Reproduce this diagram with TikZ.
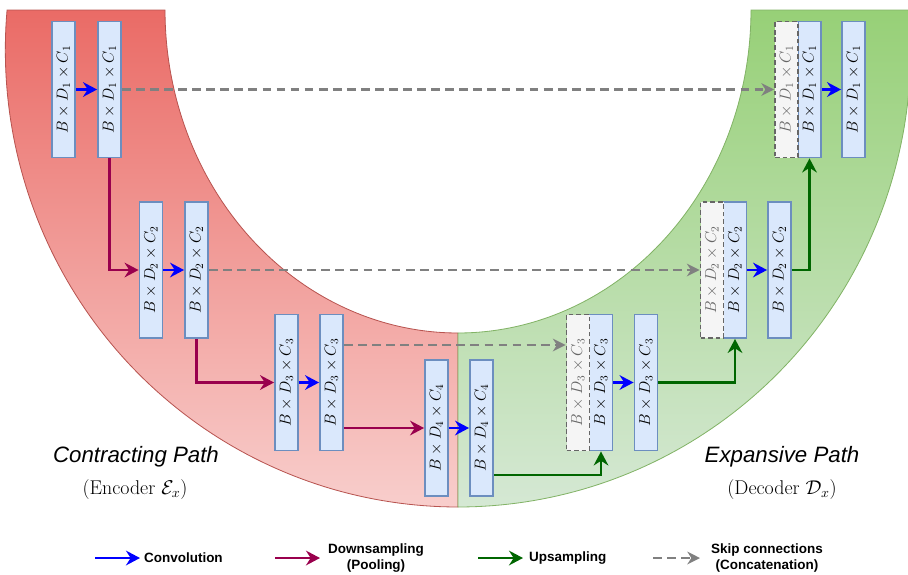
\RequirePackage{fix-cm}
\documentclass[tikz,border=0pt]{standalone}
\usepackage{fontspec}
\usepackage{amsmath}
\newfontfamily\pathfont{Liberation Sans}
\usetikzlibrary{arrows.meta}

\definecolor{redtop}{HTML}{EA6B66}
\definecolor{redbot}{HTML}{F8CECC}
\definecolor{redline}{HTML}{B85450}
\definecolor{greentop}{HTML}{97D077}
\definecolor{greenbot}{HTML}{D5E8D4}
\definecolor{greenline}{HTML}{82B366}
\definecolor{blockfill}{HTML}{DAE8FC}
\definecolor{blockline}{HTML}{6C8EBF}
\definecolor{skipfill}{HTML}{F5F5F5}
\definecolor{skipline}{HTML}{666666}
\definecolor{convblue}{HTML}{0000FF}
\definecolor{poolred}{HTML}{99004D}
\definecolor{upgreen}{HTML}{006600}
\definecolor{skipgray}{HTML}{808080}

\begin{document}
\begin{tikzpicture}[x=0.03cm, y=-0.03cm,
  block/.style={draw=blockline, fill=blockfill, line width=1.6pt,
    minimum width=0.69cm, minimum height=4.08cm, inner sep=0pt,
    font=\fontsize{13.5}{15}\selectfont},
  skipblock/.style={block, draw=skipline, fill=skipfill,
    dash pattern=on 4pt off 2.5pt, text=skipline},
  conv/.style={-{Stealth[length=4.2mm, width=4.4mm, inset=1.4mm]}, convblue, line width=2.4pt},
  pool/.style={-{Stealth[length=4.2mm, width=4.4mm, inset=1.4mm]}, poolred, line width=2.4pt},
  upconv/.style={-{Stealth[length=4.2mm, width=4.4mm, inset=1.4mm]}, upgreen, line width=2.4pt},
  skip/.style={-{Stealth[length=3.8mm, width=3.8mm, inset=1.2mm]}, skipgray, line width=1.9pt,
    dash pattern=on 7.5pt off 4.5pt},
  legend/.style={font=\pathfont\bfseries\fontsize{11.5}{13.7}\selectfont, align=center}]

  \useasboundingbox (0,0) rectangle (908,574);

  % Bands
  \draw[top color=redtop, bottom color=redbot, draw=redline, line width=0.7pt]
    plot[domain=185.02:90, samples=90] ({458+452.7*cos(\x)}, {50+457*sin(\x)})
    -- (458,333)
    -- plot[domain=90:180, samples=90] ({458+293*cos(\x)}, {10+323*sin(\x)})
    -- cycle;
  \draw[top color=greentop, bottom color=greenbot, draw=greenline, line width=0.7pt]
    plot[domain=185.02:90, samples=90] ({458-452.7*cos(\x)}, {50+457*sin(\x)})
    -- (458,333)
    -- plot[domain=90:180, samples=90] ({458-293*cos(\x)}, {10+323*sin(\x)})
    -- cycle;

  % Encoder blocks
  \node[block] (enc1a) at (63.5,89.5)  {\rotatebox{90}{$B\times D_1\times C_1$}};
  \node[block] (enc1b) at (109.5,89.5) {\rotatebox{90}{$B\times D_1\times C_1$}};
  \node[block] (enc2a) at (151,270)    {\rotatebox{90}{$B\times D_2\times C_2$}};
  \node[block] (enc2b) at (196.5,270)  {\rotatebox{90}{$B\times D_2\times C_2$}};
  \node[block] (enc3a) at (286.5,382.5) {\rotatebox{90}{$B\times D_3\times C_3$}};
  \node[block] (enc3b) at (331.5,382.5) {\rotatebox{90}{$B\times D_3\times C_3$}};

  % Bottleneck
  \node[block] (bott1) at (436.5,428) {\rotatebox{90}{$B\times D_4\times C_4$}};
  \node[block] (bott2) at (481.5,428) {\rotatebox{90}{$B\times D_4\times C_4$}};

  % Decoder blocks
  \node[block] (dec3a) at (601,382.5) {\rotatebox{90}{$B\times D_3\times C_3$}};
  \node[block] (dec3b) at (646,382.5) {\rotatebox{90}{$B\times D_3\times C_3$}};
  \node[block] (dec2a) at (735,270)   {\rotatebox{90}{$B\times D_2\times C_2$}};
  \node[block] (dec2b) at (779.5,270) {\rotatebox{90}{$B\times D_2\times C_2$}};
  \node[block] (dec1a) at (809.5,89.5) {\rotatebox{90}{$B\times D_1\times C_1$}};
  \node[block] (dec1b) at (853.5,89.5) {\rotatebox{90}{$B\times D_1\times C_1$}};
  \node[skipblock] (dec3skip) at (578,382.5)  {\rotatebox{90}{$B\times D_3\times C_3$}};
  \node[skipblock] (dec2skip) at (712,270)    {\rotatebox{90}{$B\times D_2\times C_2$}};
  \node[skipblock] (dec1skip) at (786.5,89.5) {\rotatebox{90}{$B\times D_1\times C_1$}};

  % Convolutions
  \draw[conv] (enc1a.east) -- (enc1b.west);
  \draw[conv] (enc2a.east) -- (enc2b.west);
  \draw[conv] (enc3a.east) -- (enc3b.west);
  \draw[conv] (bott1.east) -- (bott2.west);
  \draw[conv] (dec3a.east) -- (dec3b.west);
  \draw[conv] (dec2a.east) -- (dec2b.west);
  \draw[conv] (dec1a.east) -- (dec1b.west);

  % Downsampling
  \draw[pool] (enc1b.south) |- (enc2a.west);
  \draw[pool] (enc2b.south) |- (enc3a.west);
  \draw[pool] (enc3b.east |- bott1.west) -- (bott1.west);

  % Upsampling
  \draw[upconv] ([yshift=-1.41cm]bott2.east) -| (dec3a.south);
  \draw[upconv] (dec3b.east) -| (dec2a.south);
  \draw[upconv] (dec2b.east) -| (dec1a.south);

  % Skip connections
  \draw[skip] (enc1b.east) -- (dec1skip.west);
  \draw[skip] (enc2b.east) -- (dec2skip.west);
  \draw[skip] ([yshift=1.125cm]enc3b.east) -- ([yshift=1.125cm]dec3skip.west);

  % Path labels
  \node[font=\pathfont\itshape\fontsize{19}{22}\selectfont] (contract) at (136,457) {Contracting Path};
  \node[font=\fontsize{17}{20}\selectfont] (encoder) at (135,490) {(Encoder $\mathcal{E}_x$)};
  \node[font=\pathfont\itshape\fontsize{19}{22}\selectfont] (expand) at (782,457) {Expansive Path};
  \node[font=\fontsize{17}{20}\selectfont] (decoder) at (782,490) {(Decoder $\mathcal{D}_x$)};

  % Legend
  \coordinate (lconv1) at (95,558);
  \coordinate (lconv2) at (140,558);
  \draw[conv] (lconv1) -- (lconv2);
  \node[legend, right] (lconv) at (140,558) {Convolution};

  \coordinate (lpool1) at (275,558);
  \coordinate (lpool2) at (320,558);
  \draw[pool] (lpool1) -- (lpool2);
  \node[legend] (lpool) at (376,558) {Downsampling\\(Pooling)};

  \coordinate (lup1) at (478,558);
  \coordinate (lup2) at (523,558);
  \draw[upconv] (lup1) -- (lup2);
  \node[legend, right] (lup) at (525,558) {Upsampling};

  \coordinate (lskip1) at (653,558);
  \coordinate (lskip2) at (700,558);
  \draw[skip] (lskip1) -- (lskip2);
  \node[legend] (lskip) at (767,558) {Skip connections\\(Concatenation)};

\end{tikzpicture}
\end{document}
